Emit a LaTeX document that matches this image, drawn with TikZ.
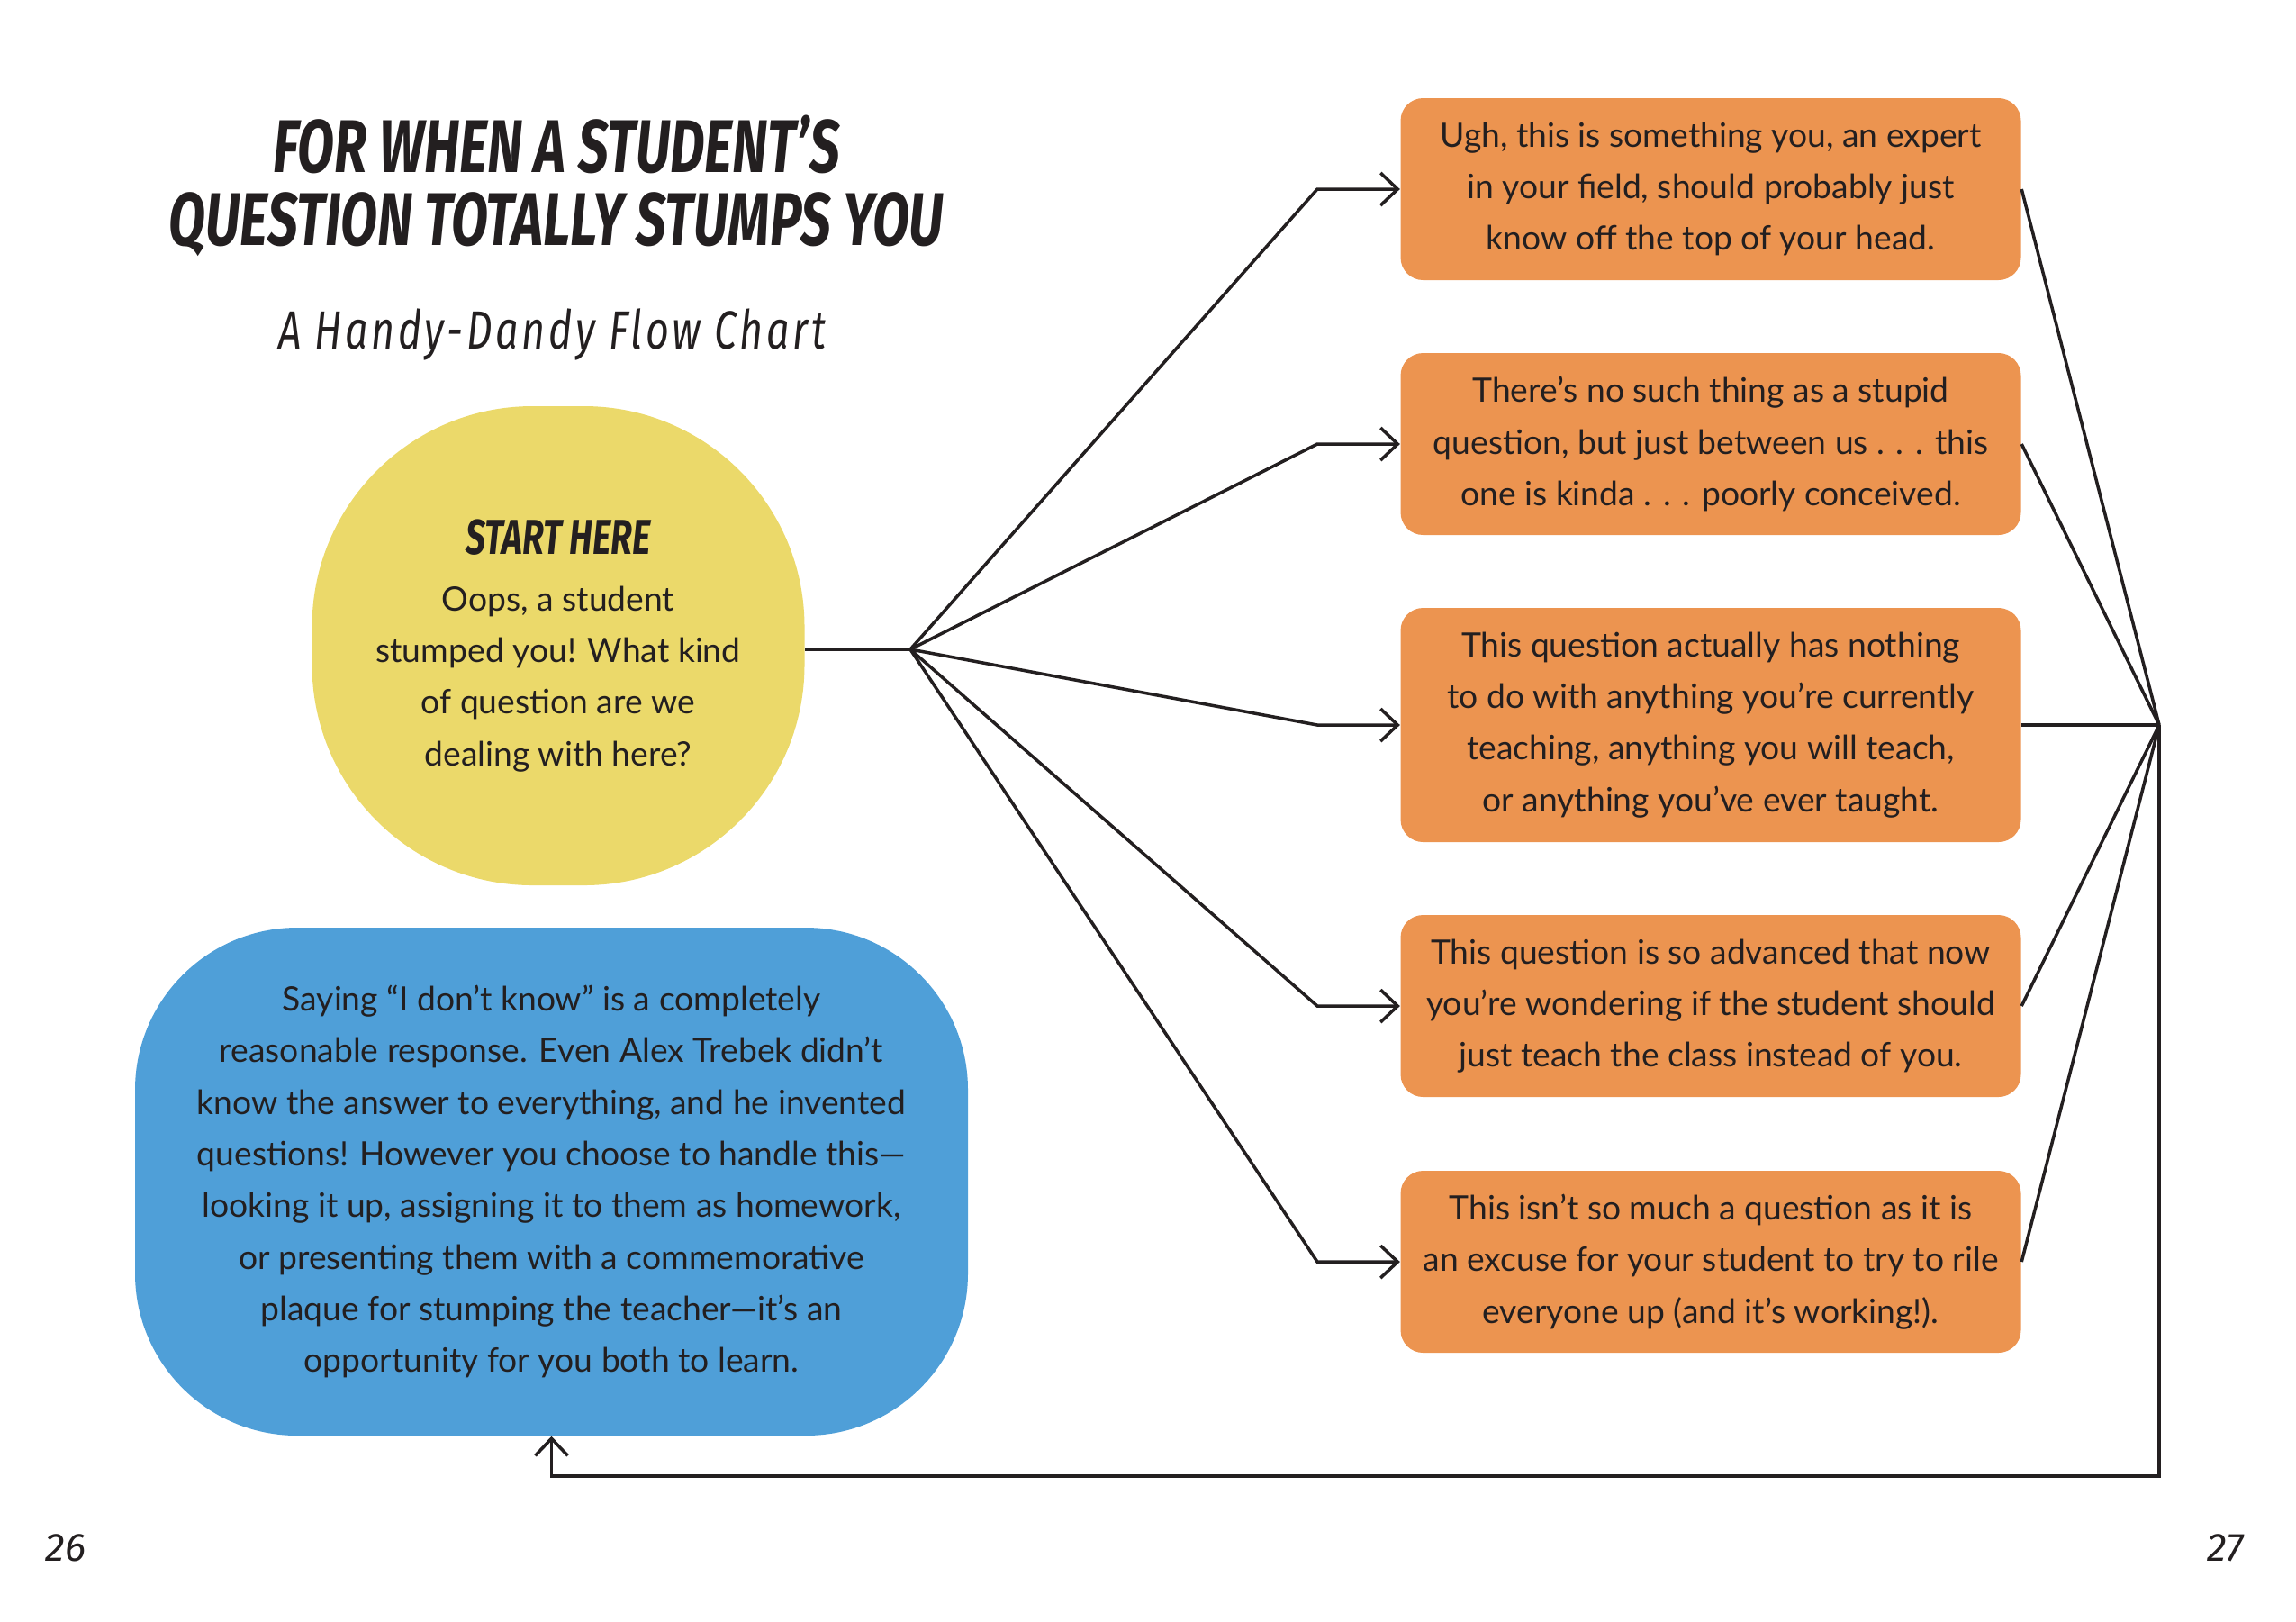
\documentclass[tikz,border=0pt]{standalone}
\usepackage{fontspec}
\setmainfont{Lato}
\newfontfamily\handfont[FakeStretch=0.72]{Fira Sans}
\newfontfamily\chartfont[FakeStretch=0.75]{Fira Sans}
\newfontfamily\pagefont{Fira Sans}
\usepackage{tikz}
\usetikzlibrary{arrows.meta, positioning}
\usepackage{xcolor}
\definecolor{stumpyellow}{HTML}{EBD96A}
\definecolor{stumporange}{HTML}{EC9450}
\definecolor{stumpblue}{HTML}{4F9FD8}
\definecolor{inkdark}{HTML}{231F20}

\begin{document}
\begin{tikzpicture}[
  every node/.style={align=center, text=inkdark},
  body/.style={font=\fontsize{10.6}{16.3}\selectfont},
  qbox/.style={body, fill=stumporange, rounded corners=0.25cm, minimum width=6.89cm, minimum height=2.02cm, inner sep=0pt},
  startblob/.style={body, fill=stumpyellow, rounded corners=2.45cm, minimum width=5.47cm, minimum height=5.32cm, inner sep=0pt},
  answerbox/.style={body, fill=stumpblue, rounded corners=1.8cm, minimum width=9.25cm, minimum height=5.64cm, inner sep=0pt},
  line/.style={draw=inkdark, line width=1pt},
  >={Straight Barb[length=1.9mm, width=3.6mm]}
]
\useasboundingbox (0,0) rectangle (25.5,-18);
% Title
\node[font=\handfont\bfseries\itshape\fontsize{23.6}{23}\selectfont] (title) at (6.18,-2.06) {FOR WHEN A STUDENT’S\\ QUESTION TOTALLY STUMPS YOU};
\node[font=\chartfont\itshape\fontsize{17}{22}\selectfont\addfontfeatures{LetterSpace=6}] (subtitle) at (6.13,-3.71) {A Handy-Dandy Flow Chart};
% Nodes
\node[startblob] (start) at (6.20,-7.17) {{\handfont\bfseries\itshape\fontsize{15.5}{17}\selectfont START HERE}\\[1.5pt]
  Oops, a student\\ stumped you! What kind\\ of question are we\\ dealing with here?};
\node[answerbox] (answer) at (6.125,-13.12) {Saying “I don’t know” is a completely\\ reasonable response. Even Alex Trebek didn’t\\ know the answer to everything, and he invented\\ questions! However you choose to handle this—\\ looking it up, assigning it to them as homework,\\ or presenting them with a commemorative\\ plaque for stumping the teacher—it’s an\\ opportunity for you both to learn.};
\node[qbox] (q1) at (19.0,-2.10) {Ugh, this is something you, an expert\\ in your field, should probably just\\ know off the top of your head.};
\node[qbox] (q2) at (19.0,-4.93) {There’s no such thing as a stupid\\ question, but just between us . . . this\\ one is kinda . . . poorly conceived.};
\node[qbox, minimum height=2.6cm] (q3) at (19.0,-8.05) {This question actually has nothing\\ to do with anything you’re currently\\ teaching, anything you will teach,\\ or anything you’ve ever taught.};
\node[qbox] (q4) at (19.0,-11.17) {This question is so advanced that now\\ you’re wondering if the student should\\ just teach the class instead of you.};
\node[qbox] (q5) at (19.0,-14.01) {This isn’t so much a question as it is\\ an excuse for your student to try to rile\\ everyone up (and it’s working!).};
% Page numbers
\node[font=\pagefont\itshape\fontsize{12.5}{14}\selectfont] (p26) at (0.73,-17.19) {26};
\node[font=\pagefont\itshape\fontsize{12.5}{14}\selectfont] (p27) at (24.72,-17.19) {27};
% Arrows
\coordinate (split) at (10.11,-7.21);
\coordinate (bend) at (14.63,0);
\coordinate (merge) at (23.98,-8.05);
\coordinate (back) at (23.98,-16.39);
\draw[line] (start.east |- split) -- (split);
\foreach \q in {q1,q2,q3,q4,q5} {
  \draw[line, ->] (split) -- (bend |- \q.west) -- (\q.west);
  \draw[line] (\q.east) -- (merge);
}
\draw[line, ->] (merge) -- (back) -| (answer.south);
\end{tikzpicture}
\end{document}
